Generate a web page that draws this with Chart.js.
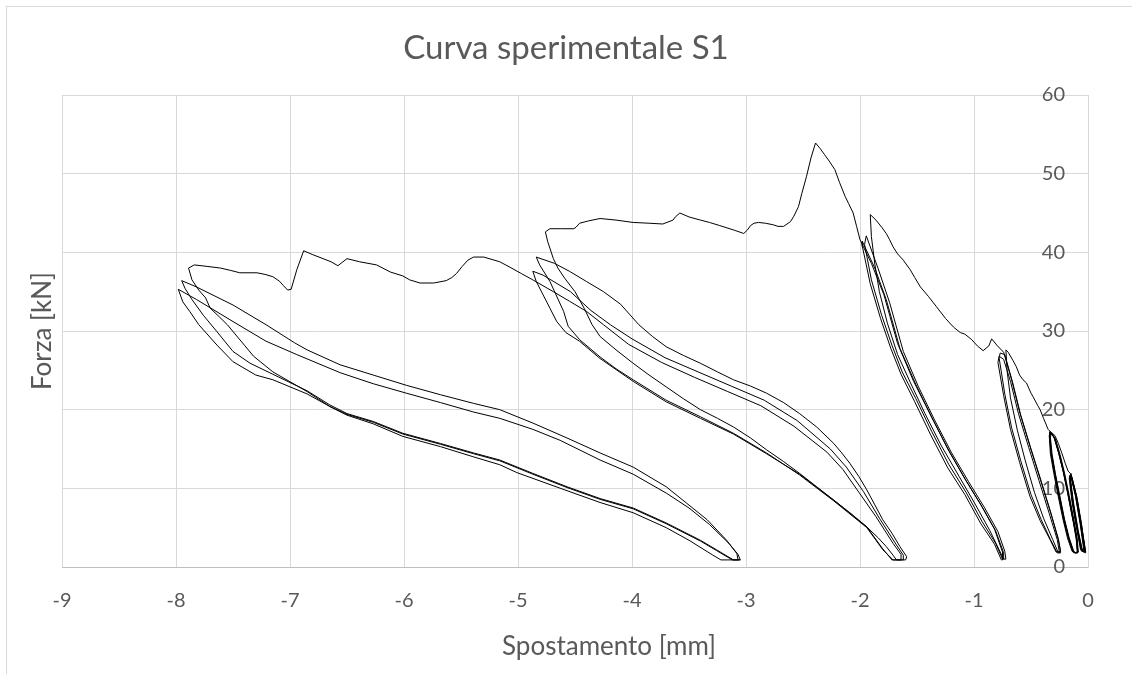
<!DOCTYPE html>
<html><head><meta charset="utf-8">
<script src="https://cdn.jsdelivr.net/npm/chart.js@4.4.0/dist/chart.umd.min.js"></script>
<style>
html,body{margin:0;padding:0;background:#fff;overflow:hidden;}
#wrap{position:relative;width:1132px;height:674px;background:#fff;}
#frame{position:absolute;left:6px;top:6px;width:1200px;height:800px;border:1px solid #d9d9d9;pointer-events:none;}
canvas{position:absolute;left:0;top:0;}
</style></head><body>
<div id="wrap"><canvas id="c" width="1132" height="674"></canvas><div id="frame"></div></div>
<script>
// ---- text ----
const chartTitle = 'Curva sperimentale S1';
const xTitle = 'Spostamento [mm]';
const yTitle = 'Forza [kN]';
// ---- axis ranges / ticks ----
const xRange = [-9, 0];
const xStep = 1;
const yRange = [0, 60];
const yStep = 10;

// ---- data: displacement [mm], force [kN], in test order ----
const loopsA = [
  [-0.02,1.9],[-0.06,5.6],[-0.10,9.0],[-0.15,11.9],
  [-0.16,11.4],[-0.13,8.1],[-0.09,4.7],[-0.05,2.2],
  [-0.03,2.0],[-0.065,5.7],[-0.105,9.1],[-0.15,11.7],
  [-0.155,11.2],[-0.125,8.0],[-0.085,4.6],[-0.05,2.0],
  [-0.02,1.8],[-0.06,5.4],[-0.10,8.8],[-0.145,11.5],
  [-0.16,11.6],[-0.135,8.2],[-0.095,4.8],[-0.06,2.1],
  [-0.025,1.9],[-0.055,5.3],[-0.095,8.7],[-0.14,11.4],
  [-0.158,11.5],[-0.13,8.0],[-0.09,4.5],[-0.055,2.0],
  [-0.03,1.9],[-0.065,5.5],[-0.105,8.9],[-0.15,11.8],
  [-0.165,11.3],[-0.14,8.3],[-0.10,4.9],[-0.065,2.2],
  [-0.035,2.0],[-0.07,5.6],[-0.11,9.0],[-0.152,11.6],
  [-0.162,11.4],[-0.138,8.4],[-0.098,5.0],[-0.06,2.3],
  [-0.03,2.1],[-0.07,5.8],[-0.11,9.2],[-0.155,11.9]
];
const envelopeAB = [
  [-0.175,12.2],[-0.20,13.2],[-0.23,14.5],[-0.26,15.7],[-0.29,16.7],[-0.32,17.1],[-0.335,17.2]
];
const loopsB = [
  [-0.335,16.8],[-0.32,14.5],[-0.29,12.0],[-0.25,9.0],[-0.21,6.2],[-0.17,3.8],[-0.13,2.0],[-0.11,1.8],
  [-0.09,1.8],[-0.10,3.5],[-0.13,6.0],[-0.17,9.0],[-0.21,11.8],[-0.25,14.2],[-0.29,16.2],[-0.32,17.0],
  [-0.33,16.5],[-0.315,14.3],[-0.285,11.8],[-0.245,8.9],[-0.205,6.0],[-0.165,3.7],[-0.125,2.0],[-0.105,1.8],
  [-0.085,1.9],[-0.095,3.6],[-0.125,6.1],[-0.165,9.1],[-0.205,11.9],[-0.245,14.3],[-0.285,16.3],[-0.315,16.9],
  [-0.335,16.9],[-0.325,14.6],[-0.295,12.1],[-0.255,9.1],[-0.215,6.3],[-0.175,3.9],[-0.135,2.1],[-0.115,1.8],
  [-0.09,1.8],[-0.105,3.7],[-0.135,6.2],[-0.175,9.2],[-0.215,12.0],[-0.255,14.4],[-0.295,16.4],[-0.325,17.1],
  [-0.338,16.6],[-0.322,14.2],[-0.29,11.6],[-0.25,8.6],[-0.21,5.8],[-0.17,3.5],[-0.13,1.9],[-0.11,1.8],
  [-0.088,1.9],[-0.10,3.9],[-0.14,6.5],[-0.18,9.5],[-0.22,12.3],[-0.26,14.6],[-0.30,16.6],[-0.328,17.0],
  [-0.34,16.7],[-0.33,14.4],[-0.30,11.9],[-0.26,8.9],[-0.22,6.1],[-0.18,3.7],[-0.14,2.0],[-0.12,1.8],
  [-0.095,1.9],[-0.10,3.6],[-0.13,6.1],[-0.17,9.1],[-0.21,11.9],[-0.25,14.3],[-0.29,16.3],[-0.33,17.2]
];
const envelopeBC = [
  [-0.35,17.5],[-0.39,18.9],[-0.42,20.0],[-0.44,20.5],[-0.48,21.6],[-0.50,22.1],[-0.54,23.4],
  [-0.57,23.8],[-0.60,24.4],[-0.63,25.5],[-0.66,26.3],[-0.70,27.3],[-0.72,27.6]
];
const loopsC = [
  [-0.71,25.0],[-0.68,21.5],[-0.62,17.4],[-0.55,13.5],[-0.47,9.5],[-0.39,6.2],[-0.31,3.5],[-0.26,1.8],
  [-0.24,1.8],[-0.26,3.4],[-0.32,6.6],[-0.41,10.9],[-0.50,15.0],[-0.59,19.3],[-0.66,23.4],[-0.73,27.0],[-0.77,27.2],
  [-0.78,26.6],[-0.73,22.0],[-0.67,17.7],[-0.59,13.5],[-0.50,9.2],[-0.41,6.0],[-0.33,3.5],[-0.27,1.8],
  [-0.25,1.8],[-0.27,3.5],[-0.34,6.8],[-0.43,11.0],[-0.52,15.2],[-0.61,19.5],[-0.68,23.6],[-0.74,26.4],[-0.78,26.8],
  [-0.79,26.0],[-0.74,21.8],[-0.68,17.5],[-0.60,13.3],[-0.51,9.0],[-0.42,5.9],[-0.33,3.4],[-0.28,1.9],
  [-0.24,2.0],[-0.26,3.6],[-0.33,7.0],[-0.42,11.2],[-0.51,15.4],[-0.60,19.7],[-0.67,23.8],[-0.74,27.3],[-0.80,28.2],[-0.845,29.0]
];
const envelopeCD = [
  [-0.87,28.1],[-0.92,27.5],[-0.97,28.1],[-1.02,28.9],[-1.08,29.6],[-1.12,29.8],[-1.18,30.5],[-1.25,31.6],
  [-1.33,33.1],[-1.40,34.4],[-1.47,35.6],[-1.52,36.8],[-1.56,37.8],[-1.62,39.0],[-1.67,39.8],[-1.71,40.7],
  [-1.74,41.6],[-1.77,42.4],[-1.81,43.2],[-1.86,44.1],[-1.91,44.8]
];
const loopsD = [
  [-1.90,42.0],[-1.87,38.5],[-1.83,35.0],[-1.76,31.0],[-1.67,27.0],[-1.56,23.5],[-1.43,19.5],[-1.29,15.5],[-1.13,11.5],[-0.99,8.0],[-0.86,4.6],[-0.78,2.2],[-0.74,1.0],
  [-0.72,1.0],[-0.73,2.0],[-0.79,4.5],[-0.91,7.6],[-1.05,10.9],[-1.20,14.6],[-1.35,18.8],[-1.49,23.0],[-1.62,27.4],[-1.74,33.6],[-1.84,37.9],[-1.945,42.1],
  [-1.96,41.0],[-1.90,36.5],[-1.81,32.0],[-1.72,28.2],[-1.63,24.8],[-1.51,21.4],[-1.37,17.2],[-1.22,13.0],[-1.07,9.5],[-0.93,5.8],[-0.81,3.0],[-0.75,1.0],
  [-0.74,1.0],[-0.74,1.8],[-0.81,4.6],[-0.93,7.7],[-1.07,11.0],[-1.22,14.8],[-1.37,19.0],[-1.51,23.2],[-1.65,27.8],[-1.77,34.0],[-1.87,38.0],[-1.98,41.4],
  [-1.98,40.8],[-1.91,36.0],[-1.82,31.6],[-1.73,27.8],[-1.64,24.5],[-1.52,21.0],[-1.38,16.8],[-1.23,12.6],[-1.08,9.2],[-0.94,5.5],[-0.82,2.9],[-0.76,0.9],
  [-0.75,0.9],[-0.75,1.9],[-0.82,4.8],[-0.94,7.9],[-1.08,11.2],[-1.23,15.0],[-1.38,19.3],[-1.53,23.6],[-1.67,28.4],[-1.79,34.6],[-1.90,38.6],[-1.98,41.0]
];
const envelopeDE = [
  [-2.00,41.6],[-2.03,43.3],[-2.06,45.0],[-2.10,46.2],[-2.13,47.1],[-2.18,48.9],[-2.22,50.5],[-2.27,51.6],
  [-2.31,52.4],[-2.35,53.2],[-2.39,53.9],[-2.43,52.0],[-2.47,49.6],[-2.51,47.5],[-2.54,45.8],[-2.58,44.6],
  [-2.61,43.9],[-2.67,43.3],[-2.72,43.3],[-2.76,43.5],[-2.83,43.7],[-2.89,43.8],[-2.93,43.7],[-2.96,43.4],
  [-2.99,42.8],[-3.02,42.4],[-3.10,42.8],[-3.23,43.4],[-3.32,43.8],[-3.40,44.1],[-3.50,44.5],[-3.58,45.0],
  [-3.62,44.5],[-3.64,44.1],[-3.73,43.6],[-3.85,43.7],[-3.99,43.8],[-4.14,44.1],[-4.28,44.3],[-4.38,44.0],
  [-4.46,43.7],[-4.49,43.2],[-4.51,43.0],[-4.62,43.0],[-4.72,43.0],[-4.76,42.6]
];
const loopsE = [
  [-4.74,41.4],[-4.69,39.2],[-4.65,38.0],[-4.59,36.7],[-4.50,35.0],[-4.42,32.9],[-4.35,30.8],[-4.28,29.3],
  [-4.14,27.6],[-3.99,25.9],[-3.85,24.4],[-3.70,22.9],[-3.55,21.4],[-3.40,20.0],[-3.25,18.9],[-3.11,17.8],
  [-2.96,16.4],[-2.82,14.9],[-2.67,13.4],[-2.53,11.9],[-2.38,10.2],[-2.23,8.5],[-2.08,6.8],[-1.94,5.1],
  [-1.84,3.7],[-1.77,2.6],[-1.71,1.5],[-1.68,0.9],
  [-1.60,0.9],[-1.59,1.3],[-1.65,2.6],[-1.72,4.3],[-1.80,6.0],[-1.87,7.9],[-1.94,9.8],[-2.01,11.5],
  [-2.09,13.2],[-2.16,14.5],[-2.23,15.7],[-2.38,17.8],[-2.53,19.5],[-2.67,20.9],[-2.82,22.1],[-2.96,23.0],
  [-3.11,23.8],[-3.25,24.8],[-3.40,25.9],[-3.55,26.9],[-3.70,28.0],[-3.82,29.3],[-3.94,30.8],[-4.10,33.4],
  [-4.25,35.0],[-4.40,36.3],[-4.55,37.6],[-4.68,38.6],[-4.84,39.4],
  [-4.81,38.4],[-4.72,36.3],[-4.60,32.5],[-4.56,30.6],[-4.46,28.9],[-4.28,26.7],[-4.14,25.2],[-3.99,23.8],
  [-3.70,21.2],[-3.40,19.1],[-3.11,17.0],[-2.82,14.5],[-2.53,11.7],[-2.23,8.4],[-1.94,5.0],[-1.80,2.2],[-1.71,0.9],
  [-1.62,0.9],[-1.62,1.5],[-1.68,2.8],[-1.83,6.2],[-1.97,9.6],[-2.12,12.7],[-2.26,15.0],[-2.55,18.6],
  [-2.84,21.2],[-3.13,23.0],[-3.42,24.8],[-3.71,26.6],[-4.00,29.0],[-4.19,30.8],[-4.36,32.6],[-4.54,35.0],
  [-4.78,37.1],[-4.87,37.6],
  [-4.84,36.3],[-4.78,34.6],[-4.72,32.9],[-4.66,31.2],[-4.58,29.8],[-4.46,28.7],[-4.28,26.5],[-3.99,23.6],
  [-3.70,21.0],[-3.40,18.9],[-3.11,16.9],[-2.82,14.4],[-2.53,11.8],[-2.23,8.5],[-1.94,5.1],[-1.80,2.3],[-1.72,0.9],
  [-1.64,0.9],[-1.64,1.6],[-1.71,3.0],[-1.86,6.4],[-2.01,9.5],[-2.15,12.4],[-2.29,14.6],[-2.58,17.9],
  [-2.87,20.5],[-3.16,22.3],[-3.45,24.1],[-3.74,26.0],[-4.03,28.3],[-4.25,30.8],[-4.40,32.5],[-4.55,33.8],
  [-4.69,35.0],[-4.87,36.5],[-4.97,37.3],[-5.07,38.1],[-5.16,38.8]
];
const envelopeEF = [
  [-5.30,39.4],[-5.39,39.4],[-5.44,39.0],[-5.49,38.2],[-5.54,37.3],[-5.58,36.8],[-5.63,36.4],[-5.74,36.1],
  [-5.86,36.1],[-5.95,36.5],[-6.01,37.0],[-6.12,37.5],[-6.24,38.4],[-6.39,38.8],[-6.50,39.2],[-6.58,38.3],
  [-6.64,38.8],[-6.71,39.2],[-6.80,39.7],[-6.88,40.2],[-6.94,37.8],[-6.99,35.3],[-7.02,35.2],[-7.06,35.8],
  [-7.09,36.3],[-7.15,36.9],[-7.22,37.2],[-7.29,37.4],[-7.44,37.4],[-7.52,37.7],[-7.61,38.0],[-7.72,38.2],
  [-7.84,38.4],[-7.89,38.0]
];
const loopsF = [
  [-7.86,36.5],[-7.80,35.2],[-7.74,34.2],[-7.70,32.9],[-7.62,31.8],[-7.55,30.8],[-7.40,28.2],[-7.32,26.8],
  [-7.15,24.8],[-6.85,22.3],[-6.65,20.4],[-6.50,19.3],[-6.27,18.2],[-6.01,16.6],[-5.68,15.3],[-5.39,14.0],
  [-5.16,13.0],[-5.01,12.0],[-4.57,9.7],[-4.28,8.2],[-3.99,6.9],[-3.70,5.0],[-3.50,3.4],[-3.29,1.5],[-3.22,0.9],
  [-3.07,0.9],[-3.08,1.7],[-3.17,3.4],[-3.34,6.0],[-3.52,8.1],[-3.70,10.2],[-3.99,12.7],[-4.28,14.5],
  [-4.57,16.4],[-4.87,18.3],[-5.16,20.0],[-5.39,20.8],[-5.68,21.9],[-5.98,23.1],[-6.27,24.4],[-6.56,25.7],
  [-6.85,27.6],[-6.96,28.5],[-7.21,30.8],[-7.50,33.3],[-7.82,35.6],[-7.95,36.4],
  [-7.92,35.4],[-7.86,34.0],[-7.76,32.0],[-7.64,29.9],[-7.50,27.4],[-7.35,25.9],[-7.15,24.5],[-6.85,22.4],
  [-6.65,20.6],[-6.50,19.5],[-6.27,18.5],[-6.01,17.0],[-5.68,15.7],[-5.39,14.5],[-5.16,13.6],[-4.87,11.9],
  [-4.57,10.2],[-4.28,8.7],[-3.99,7.5],[-3.70,5.6],[-3.40,3.4],[-3.26,2.2],[-3.11,0.9],
  [-3.05,0.9],[-3.07,1.6],[-3.15,3.0],[-3.32,5.4],[-3.50,7.5],[-3.70,9.4],[-3.99,11.8],[-4.28,13.6],
  [-4.63,16.1],[-4.87,17.5],[-5.16,18.9],[-5.39,19.7],[-5.68,20.9],[-5.98,22.1],[-6.27,23.3],[-6.56,24.7],
  [-6.94,27.0],[-7.21,28.7],[-7.50,31.2],[-7.82,34.0],[-7.98,35.3],
  [-7.94,33.7],[-7.88,32.5],[-7.80,30.8],[-7.64,28.2],[-7.50,26.1],[-7.30,24.4],[-7.15,23.8],[-6.85,22.0],
  [-6.65,20.4],[-6.50,19.4],[-6.27,18.4],[-6.01,16.9],[-5.68,15.6],[-5.39,14.4],[-5.16,13.5],[-4.87,11.8],
  [-4.57,10.1],[-4.28,8.6],[-3.99,7.4],[-3.70,5.5],[-3.40,3.3],[-3.26,2.1],[-3.12,0.9],[-3.05,0.9]
];

// path in test order (one continuous curve)
const segments = [loopsA, envelopeAB, loopsB, envelopeBC, loopsC, envelopeCD, loopsD, envelopeDE, loopsE, envelopeEF, loopsF];
const points = [].concat(...segments).map(p => ({x: p[0], y: p[1]}));

const textColor = '#595959';
Chart.defaults.font.family = 'Lato';

const shiftXTitle = {
  id: 'shiftXTitle',
  afterLayout(chart) {
    const s = chart.scales.xt;
    s.left += 34; s.right += 34;
  }
};

new Chart(document.getElementById('c').getContext('2d'), {
  type: 'scatter',
  data: {
    datasets: [{
      data: points,
      showLine: true,
      borderColor: '#000000',
      borderWidth: 1,
      pointRadius: 0,
      pointHoverRadius: 0,
      fill: false,
      tension: 0,
      xAxisID: 'x',
      yAxisID: 'y'
    }]
  },
  plugins: [shiftXTitle],
  options: {
    responsive: false,
    animation: false,
    events: [],
    layout: {padding: 0},
    plugins: {
      legend: {display: false},
      tooltip: {enabled: false},
      title: {
        display: true, text: chartTitle, color: textColor,
        font: {family: 'Lato', size: 33, weight: 'normal'},
        padding: {top: 29, bottom: 26.4}
      }
    },
    scales: {
      x: {
        type: 'linear', position: 'bottom', min: xRange[0], max: xRange[1],
        ticks: {stepSize: xStep, color: textColor, font: {family: 'Lato', size: 20}, padding: 22, maxRotation: 0},
        grid: {color: '#d9d9d9', drawTicks: false},
        border: {color: '#bfbfbf'},
        afterFit(s) { s.height = 60; }
      },
      xt: {
        type: 'linear', position: 'bottom', weight: 1, min: xRange[0], max: xRange[1],
        ticks: {display: false}, grid: {display: false}, border: {display: false},
        title: {display: true, text: xTitle, color: textColor, font: {family: 'Lato', size: 26, weight: 'normal'}, padding: {top: 0, bottom: 12}},
        afterFit(s) { s.height = 47; }
      },
      y: {
        type: 'linear', position: 'right', min: yRange[0], max: yRange[1],
        ticks: {stepSize: yStep, mirror: true, padding: -23, color: textColor, font: {family: 'Lato', size: 20}},
        grid: {color: '#d9d9d9', drawTicks: false},
        border: {color: '#d9d9d9'},
        afterFit(s) { s.width = 44; }
      },
      yL: {
        type: 'linear', position: 'left', min: yRange[0], max: yRange[1],
        ticks: {display: false}, grid: {display: false}, border: {display: false},
        title: {display: true, text: yTitle, color: textColor, font: {family: 'Lato', size: 26, weight: 'normal'}, padding: {top: 27, bottom: 0}},
        afterFit(s) { s.width = 62; }
      }
    }
  }
});
</script>
</body></html>
